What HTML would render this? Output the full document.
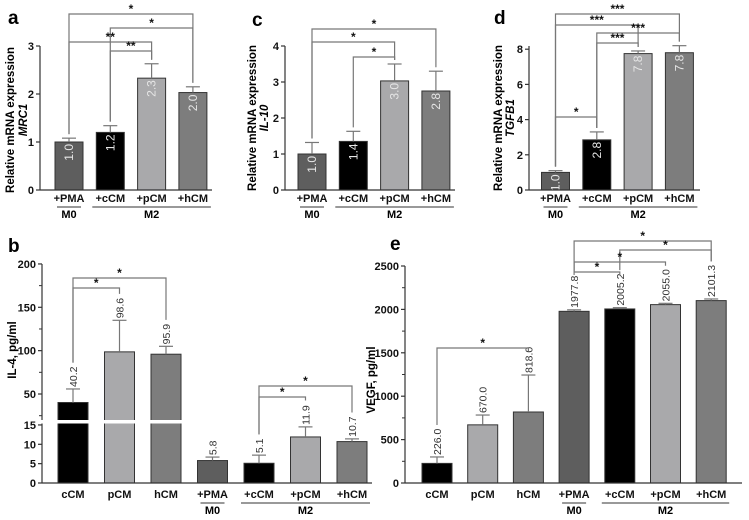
<!DOCTYPE html>
<html><head><meta charset="utf-8"><style>
html,body{margin:0;padding:0;background:#fff;}
svg{display:block;font-family:"Liberation Sans",Arial,sans-serif;}
</style></head><body>
<svg id="fig" width="749" height="520" viewBox="0 0 749 520" xmlns="http://www.w3.org/2000/svg"></svg>
<script>
// ---- data ----
const aCats = ["+PMA","+cCM","+pCM","+hCM"];
const aVals = [1.0, 1.2, 2.33, 2.03];
const aErr = [1.08, 1.34, 2.63, 2.15];
const aLabels = ["1.0","1.2","2.3","2.0"];
const aTicks = [0,1,2,3];
const cVals = [1.0, 1.35, 3.03, 2.75];
const cErr = [1.32, 1.63, 3.5, 3.3];
const cLabels = ["1.0","1.4","3.0","2.8"];
const cTicks = [0,1,2,3,4];
const dVals = [1.0, 2.85, 7.75, 7.8];
const dErr = [1.1, 3.3, 7.9, 8.2];
const dLabels = ["1.0","2.8","7.8","7.8"];
const dTicks = [0,2,4,6,8];
const beCats = ["cCM","pCM","hCM","+PMA","+cCM","+pCM","+hCM"];
const bVals = [40.2, 98.6, 95.9, 5.8, 5.1, 11.9, 10.7];
const bErr = [55.8, 135, 105, 6.7, 7.2, 14.5, 11.4];
const bLabels = ["40.2","98.6","95.9","5.8","5.1","11.9","10.7"];
const bTicksLow = [0,5,10,15];
const bTicksHigh = [50,100,150,200];
const eVals = [226.0, 670.0, 818.0, 1977.8, 2005.2, 2055.0, 2101.3];
const eErr = [300, 783, 1244, 1995, 2020, 2070, 2120];
const eLabels = ["226.0","670.0","818.0","1977.8","2005.2","2055.0","2101.3"];
const eTicks = [0,500,1000,1500,2000,2500];

const C4 = ["#5e5e5e","#000000","#a9a9ab","#7d7d7d"];
const C7 = ["#000000","#a9a9ab","#7d7d7d","#5e5e5e","#000000","#a9a9ab","#7d7d7d"];
const NS = "http://www.w3.org/2000/svg";
const svg = document.getElementById("fig");
function el(tag, attrs, parent, text){
  const e = document.createElementNS(NS, tag);
  for (const k in attrs) e.setAttribute(k, attrs[k]);
  if (text !== undefined) e.textContent = text;
  (parent||svg).appendChild(e); return e;
}
function panel(o){
  const g = el("g", {}, svg);
  
  
  const n = o.vals.length;
  const cx = i => o.x0 + i*o.step;
  const legBottom = (i, y) => {
    const et = o.y(o.err[i]);
    const b = o.inside ? et-4 : et - o.labels[i].length*5.6 - 4;
    return Math.max(b, y+3);
  };
  for (let i=0;i<n;i++){
    const top = o.y(o.vals[i]);
    const r = el("rect",{x:cx(i)-o.bw/2,y:top,width:o.bw,height:o.base-top,fill:o.colors[i],stroke:"#333","stroke-width":1},g);
    
    
    const et = o.y(o.err[i]);
    el("line",{x1:cx(i),x2:cx(i),y1:et,y2:top,stroke:"#777","stroke-width":1.2},g);
    el("line",{x1:cx(i)-7,x2:cx(i)+7,y1:et,y2:et,stroke:"#777","stroke-width":1.2},g);
    let t;
    if (o.inside){
      t = el("text",{transform:`translate(${cx(i)+4},${top+2}) rotate(-90)`,"text-anchor":"end","font-size":12,fill:"#e6e6e6"},g,o.labels[i]);
    } else {
      t = el("text",{transform:`translate(${cx(i)+4},${et-2}) rotate(-90)`,"text-anchor":"start","font-size":10.5,fill:"#333"},g,o.labels[i]);
    }
    
    
    const xl = el("text",{x:cx(i),y:o.base+o.xlOff,"text-anchor":"middle","font-size":11,"font-weight":"bold",fill:"#111"},g,o.cats[i]);
    
    
  }
  el("line",{x1:o.ax,x2:o.ax,y1:o.axTop,y2:o.base,stroke:"#333","stroke-width":1.2},g);
  el("line",{x1:o.ax,x2:o.axEnd,y1:o.base,y2:o.base,stroke:"#333","stroke-width":1.2},g);
  for (const t of o.ticks){
    const y = o.y(t);
    el("line",{x1:o.ax-4,x2:o.ax,y1:y,y2:y,stroke:"#333","stroke-width":1.2},g);
    const tl = el("text",{x:o.ax-6,y:y+4,"text-anchor":"end","font-size":11,"font-weight":"bold",fill:"#111"},g,String(t));
    
    
  }
  (o.minor||[]).forEach(t=>{const y=o.y(t);el("line",{x1:o.ax-3,x2:o.ax,y1:y,y2:y,stroke:"#333","stroke-width":1},g);});
  const gy = o.base + o.xlOff + 5;
  const m0 = o.m0idx, m2a = o.m0idx+1;
  el("line",{x1:cx(m0)-12,x2:cx(m0)+12,y1:gy,y2:gy,stroke:"#333","stroke-width":1},g);
  el("line",{x1:cx(m2a)-18,x2:cx(n-1)+18,y1:gy,y2:gy,stroke:"#333","stroke-width":1},g);
  el("text",{x:cx(m0),y:gy+11,"text-anchor":"middle","font-size":11,"font-weight":"bold"},g,"M0");
  el("text",{x:(cx(m2a)+cx(n-1))/2,y:gy+11,"text-anchor":"middle","font-size":11,"font-weight":"bold"},g,"M2");
  for (const b of o.brackets){
    const [i,j,y,s] = b;
    const yi = legBottom(i,y), yj = legBottom(j,y);
    const p = el("path",{d:`M${cx(i)},${yi} V${y} H${cx(j)} V${yj}`,fill:"none",stroke:"#777","stroke-width":1.2},g);
    
    
    el("text",{x:(cx(i)+cx(j))/2,y:y-1,"text-anchor":"middle","font-size":12,"font-weight":"bold",fill:"#111"},g,s);
  }
  const lt = el("text",{x:o.letter[0],y:o.letter[1],"font-size":19,"font-weight":"bold"},g,o.letterText);
  
  
  const yt = el("text",{transform:`translate(${o.yt[0]},${o.yt[1]}) rotate(-90)`,"text-anchor":"middle","font-size":11.5,"font-weight":"bold"},g,o.ytitle);
  
  
  if (o.ytitle2){
    el("text",{transform:`translate(${o.yt2[0]},${o.yt[1]}) rotate(-90)`,"text-anchor":"middle","font-size":11.5,"font-weight":"bold","font-style":"italic"},g,o.ytitle2);
  }
  return g;
}
panel({name:"panel-a",cats:aCats,vals:aVals,err:aErr,labels:aLabels,colors:C4,ticks:aTicks,
  y:v=>190-v*48,base:190,ax:40,axTop:46,axEnd:212,x0:69,step:41.3,bw:28,inside:true,xlOff:12,m0idx:0,
  brackets:[[0,3,14,"*"],[1,3,28,"*"],[0,2,42,"**"],[1,2,51,"**"]],
  letter:[8,24],letterText:"a",yt:[14,120],yt2:[27],ytitle:"Relative mRNA expression",ytitle2:"MRC1"});
panel({name:"panel-c",cats:aCats,vals:cVals,err:cErr,labels:cLabels,colors:C4,ticks:cTicks,
  y:v=>190-v*36,base:190,ax:285,axTop:46,axEnd:455,x0:312,step:41.3,bw:28,inside:true,xlOff:12,m0idx:0,
  brackets:[[0,3,29,"*"],[0,2,42,"*"],[1,2,57,"*"]],
  letter:[252,26],letterText:"c",yt:[256,118],yt2:[268],ytitle:"Relative mRNA expression",ytitle2:"IL-10"});
panel({name:"panel-d",cats:aCats,vals:dVals,err:dErr,labels:dLabels,colors:C4,ticks:dTicks,
  y:v=>190-v*17.6,base:190,ax:529,axTop:46,axEnd:700,x0:555.5,step:41.3,bw:28,inside:true,xlOff:12,m0idx:0,
  brackets:[[0,3,14,"***"],[0,2,25,"***"],[1,3,33,"***"],[1,2,43,"***"],[0,1,117,"*"]],
  letter:[494,24],letterText:"d",yt:[502,118],yt2:[514],ytitle:"Relative mRNA expression",ytitle2:"TGFB1"});
const yb = v => v<=15 ? 483-v*3.87 : 394-(v-50)*0.867;
const gb = panel({name:"panel-b",cats:beCats,vals:bVals,err:bErr,labels:bLabels,colors:C7,ticks:bTicksLow.concat(bTicksHigh),
  minor:[25,75,125,175],
  y:yb,base:483,ax:42,axTop:264,axEnd:372,x0:73,step:46.5,bw:30,inside:false,xlOff:15,m0idx:3,
  brackets:[[0,2,278,"*"],[0,1,288,"*"],[4,6,386,"*"],[4,5,397,"*"]],
  letter:[8,252],letterText:"b",yt:[16,350],ytitle:"IL-4, pg/ml"});
const brk = el("rect",{x:36,y:420,width:152,height:3.5,fill:"#fff"},gb);


panel({name:"panel-e",cats:beCats,vals:eVals,err:eErr,labels:eLabels,colors:C7,ticks:eTicks,
  minor:[250,750,1250,1750,2250],
  y:v=>483-v*0.0868,base:483,ax:405,axTop:266,axEnd:742,x0:437,step:45.7,bw:30,inside:false,xlOff:15,m0idx:3,
  brackets:[[0,2,348,"*"],[3,6,241,"*"],[4,6,250,"*"],[3,5,262,"*"],[3,4,272,"*"]],
  letter:[390,250],letterText:"e",yt:[375,380],ytitle:"VEGF, pg/ml"});
</script>
</body></html>
